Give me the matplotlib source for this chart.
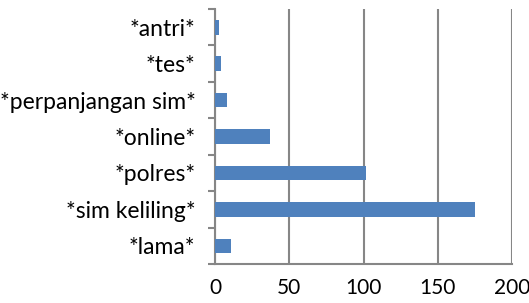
import numpy as np
import matplotlib
matplotlib.use("Agg")
import matplotlib.pyplot as plt
from matplotlib.ticker import FixedLocator

# Data (bottom to top)
categories = ["*lama*", "*sim keliling*", "*polres*", "*online*",
              "*perpanjangan sim*", "*tes*", "*antri*"]
values = [11, 175, 102, 37, 8, 4, 3]
x_ticks = [0, 50, 100, 150, 200]

plt.rcParams['font.family'] = ['Lato', 'DejaVu Sans']

fig = plt.figure(figsize=(5.29, 3.03), dpi=100)
ax = fig.add_axes([215 / 529, 39 / 303, 297 / 529, 255 / 303])

y = np.arange(len(categories))
ax.barh(y, values, height=0.4, color="#4F81BD", zorder=3)

ax.set_xlim(0, 200)
ax.set_ylim(-0.5, len(categories) - 0.5)
ax.set_xticks(x_ticks)
ax.set_yticks(y)
ax.set_yticklabels(categories)
ax.yaxis.set_minor_locator(FixedLocator(np.arange(-0.5, len(categories), 1.0)))

grid_col = "#868686"
ax.grid(axis="x", color=grid_col, linewidth=1.5, zorder=0)
for s in ["top", "right"]:
    ax.spines[s].set_visible(False)
for s in ["left", "bottom"]:
    ax.spines[s].set_color(grid_col)
    ax.spines[s].set_linewidth(1.5)

ax.tick_params(axis="y", which="major", length=0, pad=14, labelsize=16.5)
ax.tick_params(axis="y", which="minor", length=5, width=1.5, color=grid_col)
ax.tick_params(axis="x", which="major", length=0, pad=10, labelsize=15)

fig.savefig("out.png", dpi=100)
